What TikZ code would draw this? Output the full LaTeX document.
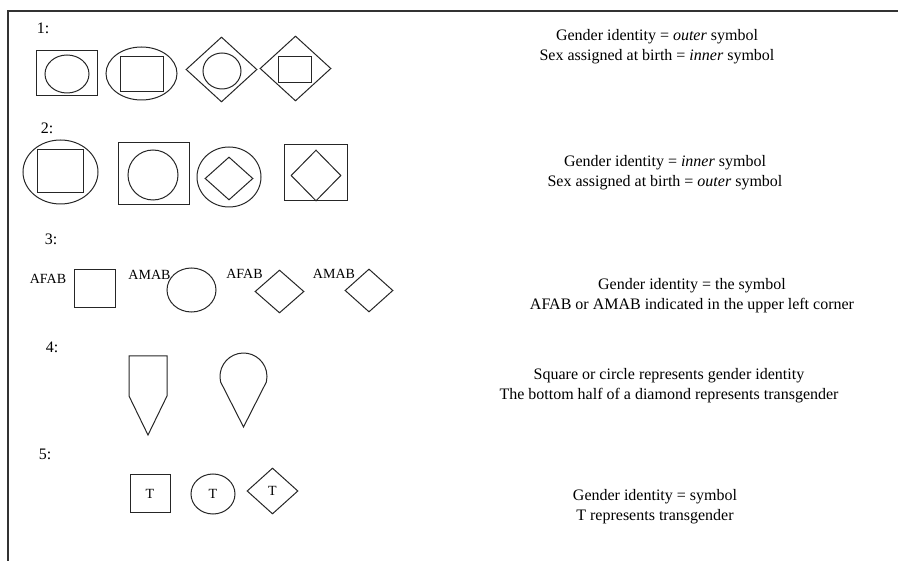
\documentclass[tikz,border=0pt]{standalone}
\usepackage{fontspec}
\setmainfont{Liberation Serif}
\usetikzlibrary{shapes.geometric}

\begin{document}
\begin{tikzpicture}[x=1pt, y=1pt, yscale=-1,
  outline/.style={draw=black!85, line width=1pt},
  frameline/.style={draw=black!80, line width=1.6pt},
  rowlabel/.style={font=\fontsize{16}{18}\selectfont, inner sep=0pt},
  birthtag/.style={font=\fontsize{14}{16}\selectfont, inner sep=0pt},
  legend/.style={font=\fontsize{16}{20}\selectfont, align=center, inner sep=0pt},
  boxshape/.style={outline, rectangle, inner sep=0pt},
  ovalshape/.style={outline, ellipse, inner sep=0pt},
  kiteshape/.style={outline, diamond, inner sep=0pt},
  tmark/.style={font=\fontsize{14}{16}\selectfont}
]
\useasboundingbox (0,0) rectangle (898,561);

% open frame along the left and top edges
\coordinate (frameBL) at (8,561);
\coordinate (frameTR) at (898,11);
\draw[frameline] (frameBL) |- (frameTR);

% ---------- row 1: gender identity outside, sex assigned at birth inside
\node[rowlabel] (n1) at (43,28) {1:};
\node[boxshape, minimum width=61pt, minimum height=45pt] (a1) at (66.5,73.5) {};
\node[ovalshape, minimum width=44pt, minimum height=38pt] (a1i) at (67,74) {};
\node[ovalshape, minimum width=71pt, minimum height=53pt] (b1) at (141.5,73.5) {};
\node[boxshape, minimum width=43pt, minimum height=35pt] (b1i) at (141.5,74.5) {};
\node[kiteshape, minimum width=71pt, minimum height=65pt] (c1) at (221.5,69.5) {};
\node[ovalshape, minimum width=38pt, minimum height=36pt] (c1i) at (222,71) {};
\node[kiteshape, minimum width=71pt, minimum height=65pt] (d1) at (295.5,68.5) {};
\node[boxshape, minimum width=33pt, minimum height=26pt] (d1i) at (294.5,70) {};
\node[legend] (t1) at (657,47) {Gender identity = \textit{outer} symbol\\Sex assigned at birth = \textit{inner} symbol};

% ---------- row 2: gender identity inside, sex assigned at birth outside
\node[rowlabel] (n2) at (47,128) {2:};
\node[ovalshape, minimum width=75pt, minimum height=64pt] (a2) at (60.5,172) {};
\node[boxshape, minimum width=46pt, minimum height=43pt] (a2i) at (60,171.5) {};
\node[boxshape, minimum width=71pt, minimum height=62pt] (b2) at (153.5,174) {};
\node[ovalshape, minimum width=50pt, minimum height=50pt] (b2i) at (153,175) {};
\node[ovalshape, minimum width=64pt, minimum height=60pt] (c2) at (229,177) {};
\node[kiteshape, minimum width=48pt, minimum height=43pt] (c2i) at (229,178.5) {};
\node[boxshape, minimum width=63pt, minimum height=56pt] (d2) at (315.5,173) {};
\node[kiteshape, minimum width=50pt, minimum height=51pt] (d2i) at (316,175.5) {};
\node[legend] (t2) at (665,173) {Gender identity = \textit{inner} symbol\\Sex assigned at birth = \textit{outer} symbol};

% ---------- row 3: symbol with birth assignment tag
\node[rowlabel] (n3) at (51,239) {3:};
\node[birthtag] (g3a) at (48,279) {AFAB};
\node[boxshape, minimum width=41pt, minimum height=38pt] (a3) at (94.5,289) {};
\node[birthtag] (g3b) at (149.5,275) {AMAB};
\node[ovalshape, minimum width=49pt, minimum height=44pt] (b3) at (191.5,290) {};
\node[birthtag] (g3c) at (244.5,274) {AFAB};
\node[kiteshape, minimum width=49pt, minimum height=43pt] (c3) at (279.5,291.5) {};
\node[birthtag] (g3d) at (334,274) {AMAB};
\node[kiteshape, minimum width=48pt, minimum height=43pt] (d3) at (369,290.5) {};
\node[legend] (t3) at (692,296) {Gender identity = the symbol\\AFAB or AMAB indicated in the upper left corner};

% ---------- row 4: square or circle over half a diamond
\node[rowlabel] (n4) at (52,347) {4:};
\draw[outline] (129,396) -- (129,356) -- (167,356) -- (167,396) -- (148,435) -- cycle;
\draw[outline] (220.65,382) arc[start angle=166.5, end angle=373.5, radius=23.5pt]
  -- (243.5,427) -- cycle;
\node[legend] (t4) at (669,386) {Square or circle represents gender identity\\The bottom half of a diamond represents transgender};

% ---------- row 5: symbol marked with T
\node[rowlabel] (n5) at (45,454) {5:};
\node[boxshape, minimum width=40pt, minimum height=38pt, tmark] (a5) at (150,494) {T};
\node[ovalshape, minimum width=44pt, minimum height=40pt, tmark] (b5) at (213,494) {T};
\node[kiteshape, minimum width=51pt, minimum height=46pt, tmark] (c5) at (272.5,491) {T};
\node[legend] (t5) at (655,507) {Gender identity = symbol\\T represents transgender};
\end{tikzpicture}
\end{document}
